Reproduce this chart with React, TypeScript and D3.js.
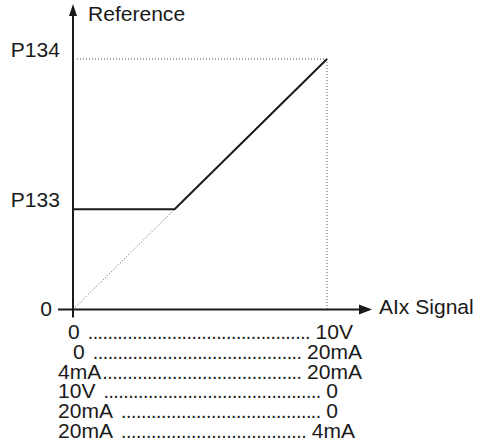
import React, { useEffect, useRef } from "react";
import * as d3 from "d3";

// Signal (% of full scale) vs Reference (% of P134)
const signalDomain = [0, 100];
const referenceDomain = [0, 100];
const p133Level = 40; // reference at minimum (P133), % of scale
const p134Level = 100; // reference at maximum (P134)
const breakSignal = 40; // signal where the ramp leaves P133
const yTickValues = [0, p133Level, p134Level];
const yTickLabels = ["0", "P133", "P134"];
const rangeStart = ["0", "0", "4mA", "10V", "20mA", "20mA"];
const rangeEnd = ["10V", "20mA", "20mA", "0", "0", "4mA"];
const xAxisTitle = "AIx Signal";
const yAxisTitle = "Reference";

// layout of the signal-range table rows (x of left start, x of right end)
const rowLeftX = [68, 73, 58, 58, 58, 58];
const rowRightX = [353, 362, 362, 338, 338, 355];

const W = 482;
const H = 446;
const FONT = "'Liberation Sans', Arial, sans-serif";
const INK = "#1a1a1a";
const SX = 1.08;

export default function App() {
  const ref = useRef<SVGSVGElement | null>(null);

  useEffect(() => {
    const svg = d3.select(ref.current);
    svg.selectAll("*").remove();

    const x = d3.scaleLinear().domain(signalDomain).range([73, 327]);
    const y = d3.scaleLinear().domain(referenceDomain).range([309.5, 59]);
    const x0 = x(0);
    const y0 = y(0);

    const g = svg.append("g");

    // dotted guides
    g.append("line")
      .attr("x1", x0 + 4).attr("x2", x(100))
      .attr("y1", y(p134Level)).attr("y2", y(p134Level))
      .attr("stroke", "#555").attr("stroke-width", 1).attr("stroke-dasharray", "1,2");
    g.append("line")
      .attr("x1", x(100)).attr("x2", x(100))
      .attr("y1", y(p134Level)).attr("y2", y0)
      .attr("stroke", "#555").attr("stroke-width", 1).attr("stroke-dasharray", "1,2");
    g.append("line")
      .attr("x1", x0).attr("y1", y0)
      .attr("x2", x(breakSignal)).attr("y2", y(p133Level))
      .attr("stroke", "#555").attr("stroke-width", 1).attr("stroke-dasharray", "1,2");

    // main curve
    const line = d3.line<[number, number]>().x((d) => x(d[0])).y((d) => y(d[1]));
    g.append("path")
      .attr("d", line([[0, p133Level], [breakSignal, p133Level], [100, p134Level]]))
      .attr("fill", "none").attr("stroke", INK).attr("stroke-width", 2);

    // axes
    g.append("line").attr("x1", x0).attr("x2", x0).attr("y1", y0 + 8).attr("y2", 14)
      .attr("stroke", INK).attr("stroke-width", 2);
    g.append("path").attr("d", `M${x0 - 4},16 L${x0},4 L${x0 + 4},16 Z`).attr("fill", INK);
    g.append("line").attr("x1", 58).attr("x2", 362).attr("y1", y0).attr("y2", y0)
      .attr("stroke", INK).attr("stroke-width", 2);
    g.append("path").attr("d", `M359,${y0 - 5} L372,${y0} L359,${y0 + 5} Z`).attr("fill", INK);

    const txt = (sel: any) =>
      sel.attr("font-family", FONT).attr("font-size", 19.5).attr("fill", INK);

    // y tick labels
    yTickValues.forEach((v, i) => {
      const endX = v === 0 ? 52 : 60;
      g.append("text")
        .call(txt)
        .attr("x", endX / SX)
        .attr("y", y(v) + (v === 0 ? 6.5 : -2))
        .attr("text-anchor", "end")
        .attr("transform", `scale(${SX},1)`)
        .text(yTickLabels[i]);
    });

    g.append("text").call(txt).attr("x", 88 / SX).attr("y", 21)
      .attr("transform", `scale(${SX},1)`).text(yAxisTitle);
    g.append("text").call(txt).attr("x", 379 / SX).attr("y", y0 + 5)
      .attr("transform", `scale(${SX},1)`).text(xAxisTitle);

    // signal range table
    rangeStart.forEach((s, i) => {
      const by = 339 + i * 19.8;
      const l = g.append("text").call(txt).attr("x", rowLeftX[i] / SX).attr("y", by)
        .attr("transform", `scale(${SX},1)`).text(s);
      const r = g.append("text").call(txt).attr("x", rowRightX[i] / SX).attr("y", by)
        .attr("text-anchor", "end").attr("transform", `scale(${SX},1)`).text(rangeEnd[i]);
      const lw = (l.node() as SVGTextElement).getComputedTextLength() * SX;
      const rw = (r.node() as SVGTextElement).getComputedTextLength() * SX;
      const startX = rowLeftX[i] + lw + (i === 2 ? 1 : 8);
      const endX = rowRightX[i] - rw - 5;
      const n = Math.max(1, Math.round((endX - startX) / 5.0));
      g.append("text").call(txt).attr("x", startX).attr("y", by)
        .attr("textLength", endX - startX).attr("lengthAdjust", "spacing")
        .text(".".repeat(n));
    });
  }, []);

  return (
    <div style={{ position: "absolute", left: 0, top: 0 }}>
      <svg ref={ref} width={W} height={H} style={{ display: "block" }} />
    </div>
  );
}
